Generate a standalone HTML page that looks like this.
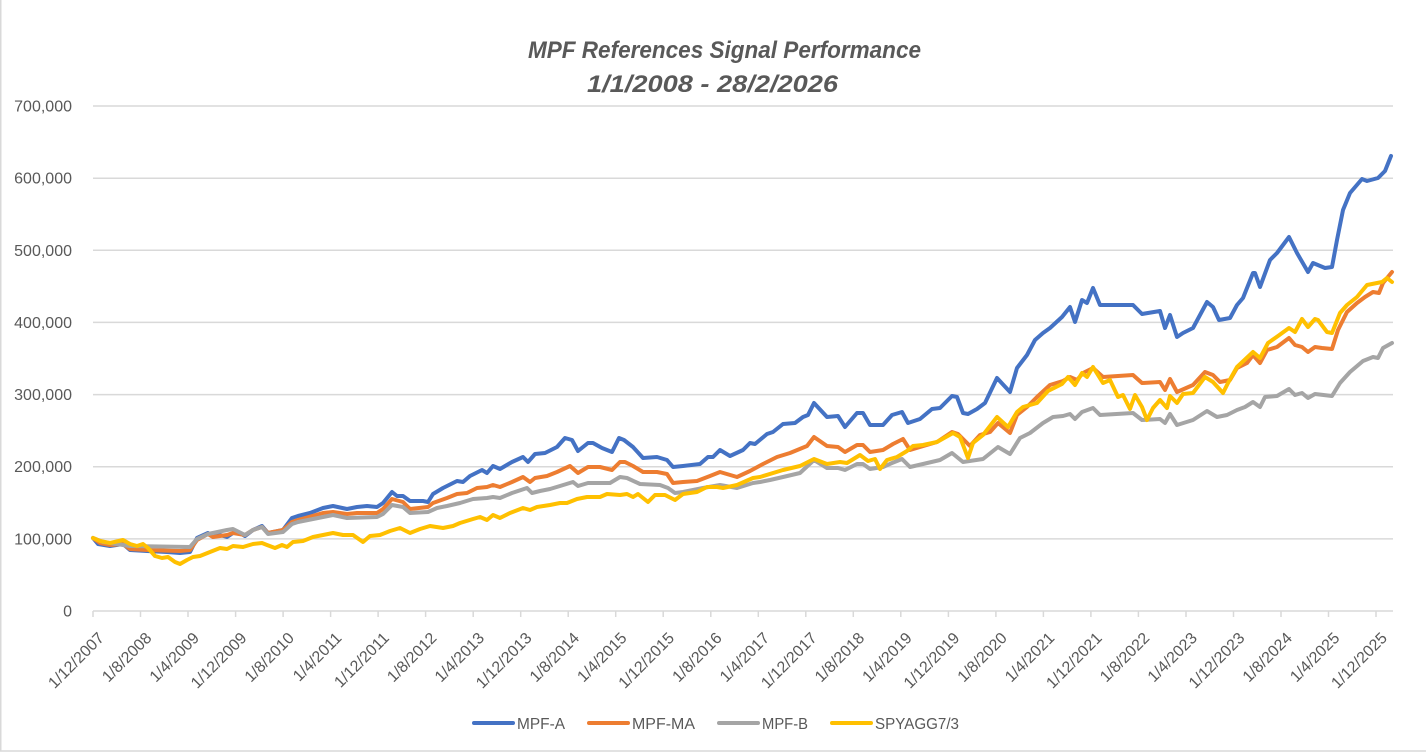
<!DOCTYPE html>
<html>
<head>
<meta charset="utf-8">
<style>
html,body{margin:0;padding:0;background:#fff;}
svg{display:block;}
text{font-family:"Liberation Sans",Arial,sans-serif;fill:#595959;}
</style>
</head>
<body>
<svg width="1426" height="752" viewBox="0 0 1426 752" xmlns="http://www.w3.org/2000/svg">
<rect x="0" y="0" width="1426" height="752" fill="#fff"/>
<line x1="0.75" y1="0" x2="0.75" y2="751" stroke="#D9D9D9" stroke-width="1.5"/>
<line x1="0" y1="751" x2="1426" y2="751" stroke="#D9D9D9" stroke-width="1.5"/>

<!-- Title -->
<text x="528" y="58" font-size="24" font-weight="bold" font-style="italic" textLength="393" lengthAdjust="spacingAndGlyphs">MPF References Signal Performance</text>
<text x="587" y="92" font-size="24" font-weight="bold" font-style="italic" textLength="251" lengthAdjust="spacingAndGlyphs">1/1/2008 - 28/2/2026</text>

<!-- Gridlines -->
<g stroke="#D9D9D9" stroke-width="1.5">
<line x1="93" y1="106" x2="1393" y2="106"/>
<line x1="93" y1="178.2" x2="1393" y2="178.2"/>
<line x1="93" y1="250.3" x2="1393" y2="250.3"/>
<line x1="93" y1="322.4" x2="1393" y2="322.4"/>
<line x1="93" y1="394.6" x2="1393" y2="394.6"/>
<line x1="93" y1="466.7" x2="1393" y2="466.7"/>
<line x1="93" y1="538.9" x2="1393" y2="538.9"/>
<line x1="93" y1="611" x2="1393" y2="611"/>
</g>
<!-- ticks -->
<g stroke="#D9D9D9" stroke-width="1.5">
<line x1="93" y1="611" x2="93" y2="617"/><line x1="140.5" y1="611" x2="140.5" y2="617"/><line x1="188" y1="611" x2="188" y2="617"/><line x1="235.6" y1="611" x2="235.6" y2="617"/><line x1="283.1" y1="611" x2="283.1" y2="617"/><line x1="330.6" y1="611" x2="330.6" y2="617"/><line x1="378.1" y1="611" x2="378.1" y2="617"/><line x1="425.6" y1="611" x2="425.6" y2="617"/><line x1="473.2" y1="611" x2="473.2" y2="617"/><line x1="520.7" y1="611" x2="520.7" y2="617"/><line x1="568.2" y1="611" x2="568.2" y2="617"/><line x1="615.7" y1="611" x2="615.7" y2="617"/><line x1="663.2" y1="611" x2="663.2" y2="617"/><line x1="710.8" y1="611" x2="710.8" y2="617"/><line x1="758.3" y1="611" x2="758.3" y2="617"/><line x1="805.8" y1="611" x2="805.8" y2="617"/><line x1="853.3" y1="611" x2="853.3" y2="617"/><line x1="900.8" y1="611" x2="900.8" y2="617"/><line x1="948.4" y1="611" x2="948.4" y2="617"/><line x1="995.9" y1="611" x2="995.9" y2="617"/><line x1="1043.4" y1="611" x2="1043.4" y2="617"/><line x1="1090.9" y1="611" x2="1090.9" y2="617"/><line x1="1138.4" y1="611" x2="1138.4" y2="617"/><line x1="1186" y1="611" x2="1186" y2="617"/><line x1="1233.5" y1="611" x2="1233.5" y2="617"/><line x1="1281" y1="611" x2="1281" y2="617"/><line x1="1328.5" y1="611" x2="1328.5" y2="617"/><line x1="1376" y1="611" x2="1376" y2="617"/>
</g>

<!-- Y labels -->
<g font-size="16" text-anchor="end">
<text x="72" y="111.5">700,000</text>
<text x="72" y="183.7">600,000</text>
<text x="72" y="255.8">500,000</text>
<text x="72" y="327.9">400,000</text>
<text x="72" y="400.1">300,000</text>
<text x="72" y="472.2">200,000</text>
<text x="72" y="544.4">100,000</text>
<text x="72" y="616.5">0</text>
</g>

<!-- X labels -->
<g font-size="16" text-anchor="end">
<text transform="translate(105,639) rotate(-45)">1/12/2007</text>
<text transform="translate(152.5,639) rotate(-45)">1/8/2008</text>
<text transform="translate(200,639) rotate(-45)">1/4/2009</text>
<text transform="translate(247.6,639) rotate(-45)">1/12/2009</text>
<text transform="translate(295.1,639) rotate(-45)">1/8/2010</text>
<text transform="translate(342.6,639) rotate(-45)">1/4/2011</text>
<text transform="translate(390.1,639) rotate(-45)">1/12/2011</text>
<text transform="translate(437.6,639) rotate(-45)">1/8/2012</text>
<text transform="translate(485.2,639) rotate(-45)">1/4/2013</text>
<text transform="translate(532.7,639) rotate(-45)">1/12/2013</text>
<text transform="translate(580.2,639) rotate(-45)">1/8/2014</text>
<text transform="translate(627.7,639) rotate(-45)">1/4/2015</text>
<text transform="translate(675.2,639) rotate(-45)">1/12/2015</text>
<text transform="translate(722.8,639) rotate(-45)">1/8/2016</text>
<text transform="translate(770.3,639) rotate(-45)">1/4/2017</text>
<text transform="translate(817.8,639) rotate(-45)">1/12/2017</text>
<text transform="translate(865.3,639) rotate(-45)">1/8/2018</text>
<text transform="translate(912.8,639) rotate(-45)">1/4/2019</text>
<text transform="translate(960.4,639) rotate(-45)">1/12/2019</text>
<text transform="translate(1007.9,639) rotate(-45)">1/8/2020</text>
<text transform="translate(1055.4,639) rotate(-45)">1/4/2021</text>
<text transform="translate(1102.9,639) rotate(-45)">1/12/2021</text>
<text transform="translate(1150.4,639) rotate(-45)">1/8/2022</text>
<text transform="translate(1198,639) rotate(-45)">1/4/2023</text>
<text transform="translate(1245.5,639) rotate(-45)">1/12/2023</text>
<text transform="translate(1293,639) rotate(-45)">1/8/2024</text>
<text transform="translate(1340.5,639) rotate(-45)">1/4/2025</text>
<text transform="translate(1388,639) rotate(-45)">1/12/2025</text>
</g>

<!-- Series -->
<g fill="none" stroke-width="4" stroke-linejoin="round" stroke-linecap="round">
<polyline stroke="#4472C4" points="93,538 98,544 110,546 123,544 130,550 147,551 167,552 180,553 190,552 197,538 208,533 213,537 220,535 227,537 233,533 240,533 245,536 253,530 262,526 268,533 283,530 292,518 298,516 310,513 323,508 333,506 347,509 357,507 367,506 377,507 383,503 392,492 397,496 403,496 410,501 423,501 428,502 433,494 443,488 457,481 463,482 470,476 482,470 487,473 493,466 500,469 512,462 523,457 528,462 535,454 545,453 557,447 565,438 572,440 578,451 588,443 593,443 602,448 612,452 619,438 624,440 633,447 643,458 657,457 667,460 673,467 683,466 700,464 708,457 713,457 720,450 730,456 743,450 750,443 755,444 767,434 773,432 783,424 795,423 803,417 808,415 814,403 827,417 838,416 845,427 857,413 863,413 870,425 883,425 892,415 902,412 908,423 920,419 932,409 940,408 952,396 957,397 963,413 968,414 977,409 985,403 997,378 1010,392 1017,368 1027,355 1035,340 1043,333 1050,328 1062,317 1070,307 1075,322 1082,300 1087,303 1093,288 1100,305 1133,305 1142,314 1160,311 1165,328 1170,315 1177,337 1183,333 1193,328 1207,302 1213,307 1219,320 1230,318 1237,305 1243,298 1253,273 1255,273 1260,287 1270,260 1277,253 1289,237 1297,253 1308,272 1313,263 1325,268 1332,267 1337,240 1343,210 1350,193 1362,179 1367,181 1378,178 1385,171 1391,156"/>
<polyline stroke="#ED7D31" points="93,538 100,543 110,545 123,544 130,549 147,550 180,551 190,550 197,540 208,534 213,537 227,535 233,533 245,535 253,530 262,527 268,533 283,530 292,522 298,520 323,513 333,512 347,514 357,513 377,513 383,509 392,499 403,502 410,509 428,507 433,503 447,498 457,494 467,493 477,488 487,487 493,485 500,487 512,482 523,477 530,482 535,478 547,476 557,472 570,466 578,473 588,467 600,467 612,470 620,462 625,462 633,466 643,472 657,472 667,474 673,483 683,482 697,481 710,476 720,472 737,477 750,471 763,464 777,457 790,453 807,446 814,437 827,446 838,447 845,452 857,445 863,445 870,452 883,450 893,444 903,439 910,450 920,447 937,442 952,432 958,434 970,446 980,435 990,432 998,423 1010,433 1017,415 1027,407 1037,397 1050,385 1063,381 1070,377 1077,380 1083,373 1093,368 1103,377 1133,375 1142,383 1160,382 1165,390 1170,379 1177,392 1193,385 1205,372 1213,375 1220,382 1230,380 1237,368 1247,363 1253,355 1260,363 1267,350 1277,347 1289,338 1295,345 1302,347 1308,352 1315,347 1322,348 1332,349 1338,330 1347,312 1357,303 1365,297 1373,292 1379,293 1383,283 1392,272"/>
<polyline stroke="#A5A5A5" points="93,538 103,542 130,546 190,547 197,539 208,534 227,530 233,529 245,535 253,530 262,527 268,534 283,532 292,524 298,522 323,517 333,515 347,518 377,517 383,514 392,505 403,507 410,513 428,512 437,508 447,506 460,503 473,499 487,498 493,497 500,498 512,493 527,488 532,493 540,491 550,489 560,486 573,482 578,486 588,483 610,483 620,477 627,478 640,484 660,485 668,488 675,493 683,492 703,488 720,485 737,488 753,483 760,482 770,480 783,477 800,473 814,460 827,468 838,468 845,470 857,464 863,464 870,469 883,467 892,463 902,459 910,467 923,464 940,460 952,453 963,462 983,459 998,447 1010,454 1020,438 1030,433 1043,423 1053,417 1063,416 1070,414 1075,419 1082,412 1093,408 1100,415 1133,413 1142,420 1160,419 1165,423 1170,414 1177,425 1193,420 1207,411 1217,417 1227,415 1237,410 1245,407 1253,402 1260,407 1265,397 1277,396 1289,389 1295,395 1302,393 1308,398 1315,394 1332,396 1340,383 1350,372 1363,361 1373,357 1378,358 1383,348 1392,343"/>
<polyline stroke="#FFC000" points="93,538 100,541 110,543 123,540 130,544 137,546 143,544 148,548 155,556 162,558 168,557 175,562 180,564 187,560 193,557 200,556 210,552 220,548 227,549 233,546 243,547 253,544 262,543 267,545 275,548 282,545 287,547 293,542 303,541 313,537 323,535 333,533 343,535 353,535 363,542 370,536 380,535 390,531 400,528 410,533 420,529 430,526 443,528 453,526 460,523 473,519 480,517 487,520 493,515 500,518 510,513 523,508 530,510 537,507 550,505 560,503 567,503 577,499 587,497 600,497 607,494 620,495 627,494 633,497 638,494 648,502 655,495 665,495 675,500 683,494 697,492 707,487 717,487 723,488 737,485 753,478 760,477 783,470 800,466 814,459 827,464 840,462 847,463 860,455 868,461 875,459 880,469 887,460 897,457 907,451 913,446 923,445 937,442 953,433 960,437 968,458 973,443 983,435 997,417 1008,427 1017,412 1023,407 1037,403 1048,391 1062,384 1068,377 1075,385 1082,373 1087,377 1093,367 1103,383 1110,380 1118,397 1123,395 1130,409 1135,395 1142,407 1147,420 1153,408 1160,400 1167,408 1170,396 1177,403 1183,394 1193,393 1205,377 1213,382 1223,393 1228,383 1237,367 1253,352 1260,358 1268,343 1278,336 1289,328 1295,332 1302,319 1308,327 1315,319 1318,320 1327,332 1332,333 1340,313 1347,305 1357,297 1367,285 1377,283 1382,282 1387,278 1392,282"/>
</g>

<!-- Legend -->
<g stroke-width="4" stroke-linecap="round">
<line x1="474" y1="723" x2="513" y2="723" stroke="#4472C4"/>
<line x1="589" y1="723" x2="628" y2="723" stroke="#ED7D31"/>
<line x1="719" y1="723" x2="758" y2="723" stroke="#A5A5A5"/>
<line x1="832" y1="723" x2="871" y2="723" stroke="#FFC000"/>
</g>
<g font-size="16">
<text x="517" y="729" textLength="48" lengthAdjust="spacingAndGlyphs">MPF-A</text>
<text x="632" y="729" textLength="63" lengthAdjust="spacingAndGlyphs">MPF-MA</text>
<text x="762" y="729" textLength="46" lengthAdjust="spacingAndGlyphs">MPF-B</text>
<text x="875" y="729" textLength="84" lengthAdjust="spacingAndGlyphs">SPYAGG7/3</text>
</g>
</svg>
</body>
</html>
